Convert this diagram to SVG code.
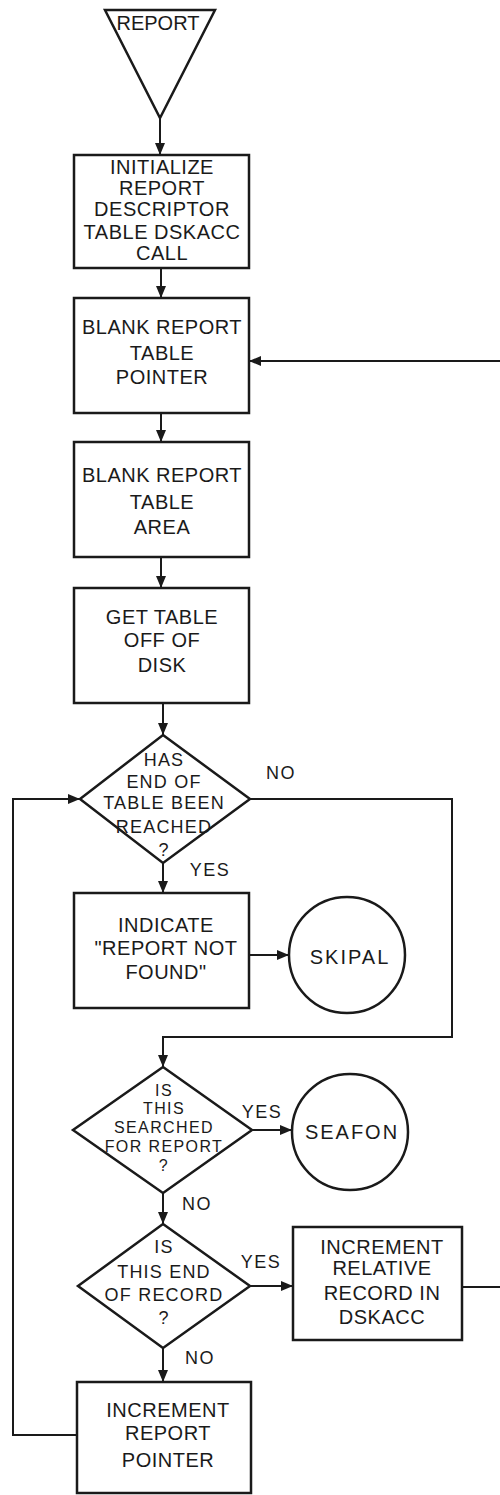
<svg xmlns="http://www.w3.org/2000/svg" width="500" height="1495" viewBox="0 0 500 1495">
<style>
.shape{fill:#fff;stroke:#1a1a1a;stroke-width:2.5}
.conn{fill:none;stroke:#1a1a1a;stroke-width:2}
.t{font-family:"Liberation Sans",Arial,sans-serif;font-size:20px;letter-spacing:0.5px;fill:#1a1a1a;text-anchor:middle}
.d{font-family:"Liberation Sans",Arial,sans-serif;font-size:18px;letter-spacing:1.2px;fill:#1a1a1a;text-anchor:middle}
.ds{font-family:"Liberation Sans",Arial,sans-serif;font-size:16px;letter-spacing:1.4px;fill:#1a1a1a;text-anchor:middle}
.c{font-family:"Liberation Sans",Arial,sans-serif;font-size:20px;letter-spacing:2px;fill:#1a1a1a;text-anchor:middle}
.l{font-family:"Liberation Sans",Arial,sans-serif;font-size:18px;letter-spacing:1.5px;fill:#1a1a1a;text-anchor:middle}
</style>
<defs>
<marker id="ah" viewBox="0 0 12 10" refX="12" refY="5" markerWidth="13" markerHeight="10" markerUnits="userSpaceOnUse" orient="auto">
<path d="M0,0 L12,5 L0,10 Z" fill="#1a1a1a"/>
</marker>
</defs>
<rect width="500" height="1495" fill="#fff"/>
<g id="connectors">
<line class="conn" x1="160" y1="118" x2="160" y2="155" marker-end="url(#ah)"/>
<line class="conn" x1="161" y1="268" x2="161" y2="298" marker-end="url(#ah)"/>
<line class="conn" x1="161" y1="413" x2="161" y2="442" marker-end="url(#ah)"/>
<line class="conn" x1="161" y1="557" x2="161" y2="588" marker-end="url(#ah)"/>
<line class="conn" x1="163" y1="703" x2="163" y2="735" marker-end="url(#ah)"/>
<line class="conn" x1="163" y1="863" x2="163" y2="893" marker-end="url(#ah)"/>
<line class="conn" x1="249" y1="955" x2="289" y2="955" marker-end="url(#ah)"/>
<polyline class="conn" points="250,799 452,799 452,1037 163,1037 163,1067" marker-end="url(#ah)"/>
<line class="conn" x1="252" y1="1130" x2="292" y2="1130" marker-end="url(#ah)"/>
<line class="conn" x1="163" y1="1193" x2="163" y2="1224" marker-end="url(#ah)"/>
<line class="conn" x1="250" y1="1286" x2="293" y2="1286" marker-end="url(#ah)"/>
<line class="conn" x1="163" y1="1348" x2="163" y2="1382" marker-end="url(#ah)"/>
<polyline class="conn" points="77,1435 13,1435 13,799 80,799" marker-end="url(#ah)"/>
<line class="conn" x1="462" y1="1287" x2="500" y2="1287"/>
<line class="conn" x1="500" y1="361" x2="249" y2="361" marker-end="url(#ah)"/>
<text class="l" x="281" y="779">NO</text>
<text class="l" x="210" y="876">YES</text>
<text class="l" x="262" y="1118">YES</text>
<text class="l" x="197" y="1210">NO</text>
<text class="l" x="261" y="1268">YES</text>
<text class="l" x="200" y="1364">NO</text>
</g>
<g id="report">
<polygon class="shape" points="105,10 215,10 160,118"/>
<text class="t" x="158" y="30" style="letter-spacing:0">REPORT</text>
</g>
<g id="initialize">
<rect class="shape" x="74" y="155" width="175" height="113"/>
<text class="t" x="162" y="174">INITIALIZE</text>
<text class="t" x="162" y="195">REPORT</text>
<text class="t" x="162" y="216">DESCRIPTOR</text>
<text class="t" x="162" y="239">TABLE DSKACC</text>
<text class="t" x="162" y="260">CALL</text>
</g>
<g id="blank-pointer">
<rect class="shape" x="74" y="298" width="175" height="115"/>
<text class="t" x="162" y="334">BLANK REPORT</text>
<text class="t" x="162" y="360">TABLE</text>
<text class="t" x="162" y="384">POINTER</text>
</g>
<g id="blank-area">
<rect class="shape" x="74" y="442" width="175" height="115"/>
<text class="t" x="162" y="482">BLANK REPORT</text>
<text class="t" x="162" y="509">TABLE</text>
<text class="t" x="162" y="534">AREA</text>
</g>
<g id="get-table">
<rect class="shape" x="74" y="588" width="175" height="115"/>
<text class="t" x="162" y="624">GET TABLE</text>
<text class="t" x="162" y="647">OFF OF</text>
<text class="t" x="162" y="672">DISK</text>
</g>
<g id="end-of-table">
<polygon class="shape" points="163,735 250,799 163,863 80,799"/>
<text class="d" x="164" y="766">HAS</text>
<text class="d" x="164" y="788">END OF</text>
<text class="d" x="164" y="809">TABLE BEEN</text>
<text class="d" x="164" y="833">REACHED</text>
<text class="d" x="164" y="856">?</text>
</g>
<g id="indicate">
<rect class="shape" x="74" y="893" width="175" height="115"/>
<text class="t" x="166" y="932">INDICATE</text>
<text class="t" x="166" y="955">"REPORT NOT</text>
<text class="t" x="166" y="979">FOUND"</text>
</g>
<g id="skipal">
<circle class="shape" cx="347" cy="955" r="58"/>
<text class="c" x="350" y="964">SKIPAL</text>
</g>
<g id="searched">
<polygon class="shape" points="163,1067 252,1130 163,1193 73,1130"/>
<text class="ds" x="164" y="1096">IS</text>
<text class="ds" x="164" y="1114">THIS</text>
<text class="ds" x="164" y="1133">SEARCHED</text>
<text class="ds" x="164" y="1152">FOR REPORT</text>
<text class="ds" x="164" y="1171">?</text>
</g>
<g id="seafon">
<circle class="shape" cx="350" cy="1132" r="58"/>
<text class="c" x="352" y="1139">SEAFON</text>
</g>
<g id="end-of-record">
<polygon class="shape" points="163,1224 250,1286 163,1348 78,1286"/>
<text class="d" x="164" y="1253">IS</text>
<text class="d" x="164" y="1278">THIS END</text>
<text class="d" x="164" y="1301">OF RECORD</text>
<text class="d" x="164" y="1324">?</text>
</g>
<g id="increment-relative">
<rect class="shape" x="293" y="1227" width="169" height="113"/>
<text class="t" x="382" y="1254">INCREMENT</text>
<text class="t" x="382" y="1275">RELATIVE</text>
<text class="t" x="382" y="1300">RECORD IN</text>
<text class="t" x="382" y="1324">DSKACC</text>
</g>
<g id="increment-pointer">
<rect class="shape" x="77" y="1382" width="174" height="111"/>
<text class="t" x="168" y="1417">INCREMENT</text>
<text class="t" x="168" y="1440">REPORT</text>
<text class="t" x="168" y="1467">POINTER</text>
</g>
</svg>
